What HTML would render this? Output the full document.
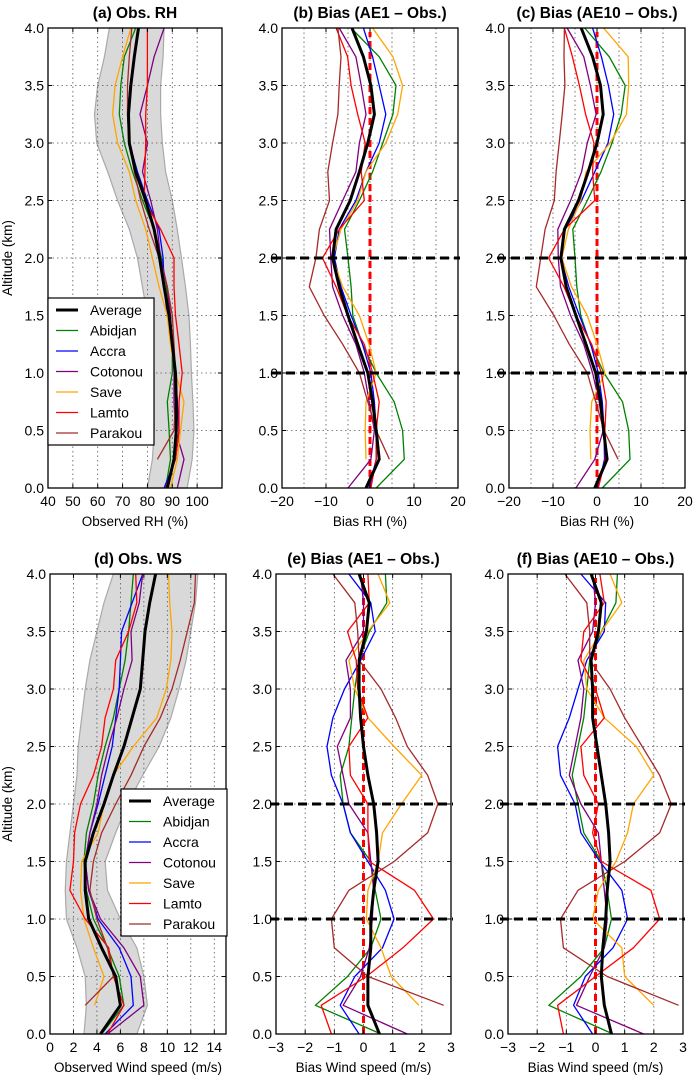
<!DOCTYPE html>
<html><head><meta charset="utf-8"><style>
html,body{margin:0;padding:0;background:#fff;}
svg{display:block;font-family:"Liberation Sans","DejaVu Sans",sans-serif;}
</style></head><body>
<svg id="fig" width="693" height="1076" viewBox="0 0 693 1076" xmlns="http://www.w3.org/2000/svg"></svg>
<script>
// ---------- data ----------
const altitudes = [0,0.25,0.5,0.75,1.0,1.25,1.5,1.75,2.0,2.25,2.5,2.75,3.0,3.25,3.5,3.75,4.0];
const seriesNames = ["Average","Abidjan","Accra","Cotonou","Save","Lamto","Parakou"];
const seriesColors = ["#000000","#008000","#0000ff","#800080","#ffa500","#ff0000","#a52a2a"];

// (a) observed RH (%)
const rhBandLow  = [80,82,82.7,82.7,82.7,81.3,80,78,76,72.7,68,64,59.6,58.7,60,62.7,64.7];
const rhBandHigh = [96,98,98.7,98.3,97.7,97.3,96.7,95.3,93.7,92,90,87.3,86,85.3,85.3,86.3,86.7];
const rhAverage = [88,90.7,91.6,91.6,91.3,90,88.7,86.7,84.9,82.7,79.3,75.3,72.7,72.4,73.3,74.7,76.4];
const rhAbidjan = [87.3,89.3,88.7,88,90,90,89.3,87.6,85.7,82.7,78,74,70.7,68.7,69.3,70.7,75.3];
const rhAccra   = [86.7,91.3,92.7,92,91.3,90,88,86.7,86.3,84.7,80,76,72.7,72,73,74.7,76.4];
const rhCotonou = [92,94.7,91.3,90.7,90.7,90,89.3,88,85.3,84,81.3,78,80,77,80,82.7,86.7];
const rhSave    = [89.3,92,93.3,94.7,91.3,89.3,88,84.7,82,79.3,75.3,72.7,68,66,67,70,73.3];
const rhLamto   = [87.3,91.3,92.7,92.7,94,92.7,91.3,90.7,90.7,85.3,78.7,79,79.3,79.3,80,80,80];
const rhParakou = [null,84,90.7,91.3,91.3,90.7,90,88,84.7,80.7,77.3,74.7,72.7,72,72,72.7,73.7];

// (b) RH bias AE1 - Obs (%)
const b1Average = [-0.9,2.1,1.4,0.6,-0.5,-2.8,-5,-7,-8.5,-7.7,-4.5,-2.4,-0.5,1.0,0.2,-1.5,-4.1];
const b1Abidjan = [1.4,7.8,7.4,5.5,1.4,-1.7,-3.9,-4.3,-5,-5.8,-2.4,0.6,2.9,5.2,5.9,2.1,-4.3];
const b1Accra   = [-0.2,1.4,1.4,1,0.2,-1.7,-4.3,-6.6,-8.1,-7,-3.2,-0.9,2.1,3.6,2.1,0.6,-1.5];
const b1Cotonou = [-5,0.2,1,-0.2,-1.3,-3.2,-6.2,-8.5,-8.9,-9.2,-6.2,-3.2,-2.4,-0.9,-2,-3.2,-7];
const b1Save    = [null,-0.9,-1.1,-0.9,1.4,-0.2,-2.4,-6.2,-8.5,-6.6,-2.8,-0.9,3.6,6.3,7.4,5.2,0.6];
const b1Lamto   = [0.2,1.4,1.4,2.1,0.6,-1.3,-5.1,-7.7,-10.8,-7,-1.3,-2,-1.1,-2.8,-4.3,-5.1,-7.7];
const b1Parakou = [null,4.4,1.4,-0.5,-2.4,-6.2,-10.4,-13.8,-12.3,-11.5,-9.2,-9.6,-8.5,-7.3,-7,-6.6,-7.3];

// (c) RH bias AE10 - Obs (%)
const b10Average = [-0.5,2.3,1.5,0.8,-0.3,-2.5,-4.8,-7,-8.2,-7.4,-4.2,-2,0,1.4,0.8,-1,-3.6];
const b10Abidjan = [1.2,7.5,7.2,5.8,1.6,-1.5,-3.7,-4.6,-5,-5.5,-2.2,0.9,3.4,5.5,6.4,2.8,-2.8];
const b10Accra   = [0.2,1.7,1.6,1.2,0.3,-1.4,-4,-6.4,-8.2,-7.2,-3.5,-0.5,2.5,3.8,2.6,1,-1];
const b10Cotonou = [-4.8,-0.5,1.4,0.5,-1,-3,-6,-8.3,-8.8,-8.9,-6,-3.5,-2.2,-0.2,-1.5,-3,-6.8];
const b10Save    = [null,-1.4,-1.6,-1.2,1.8,0,-2.2,-5.8,-8,-6.5,-3.7,-2.5,3,6.7,7.2,7.1,1.5];
const b10Lamto   = [0.3,1.9,1.8,2.1,1,-1.2,-4.8,-7.5,-11,-7.4,-0.5,-1,-0.7,-2.6,-4,-5.6,-7.4];
const b10Parakou = [null,4.8,1.6,-0.3,-2.2,-6.3,-9.8,-13.8,-12.8,-11.8,-9.7,-9.3,-8.6,-7.9,-7.3,-7.5,-7.4];

// (d) observed wind speed (m/s)
const wsBandLow  = [2.9,3.1,3,2.3,1.4,1.3,1.4,1.7,2,2.3,2.4,2.7,3,3.4,4,4.6,5.4];
const wsBandHigh = [7.4,8.3,8,7.4,6,4.9,4.7,5.6,6.6,7.9,9.3,10.3,11,11.6,12,12.4,12.6];
const wsAverage = [4.3,6,5.6,4.4,3.3,3,3,3.7,4.6,5.4,6.3,7,7.7,7.9,8.1,8.5,9.0];
const wsAbidjan = [4.4,6.3,5.9,4.9,3.7,3.1,2.9,3.1,3.7,4.1,4.7,5.4,5.9,6.4,6.7,6.9,7.1];
const wsAccra   = [4.7,7.1,6.9,5.9,4.1,3.3,3,3.4,4.1,4.7,5.3,5.6,5.9,6,6.1,7,7.9];
const wsCotonou = [4.9,8,7.7,6.3,4.3,3.3,3,3.4,4,4.4,5,5.7,6.3,7,6.9,7.6,7.9];
const wsSave    = [null,3.8,4.6,3.7,2.9,2.6,2.7,4.1,4.6,5.4,7.1,9.1,9.9,10.3,10.4,10.2,10.1];
const wsLamto   = [4.9,6.3,5.4,5,3,1.7,2,2.1,2.6,3.7,4.4,4.7,5.4,5.6,6.7,7.4,7.3];
const wsParakou = [null,3.0,5.4,4.9,4,3.4,3.7,4.4,5.6,6.9,8,9.4,10.4,11.1,11.7,12.3,12.4];

// (e) WS bias AE1 - Obs (m/s)
const e1Average = [0.55,0.15,0.15,0.25,0.25,0.35,0.5,0.45,0.35,0.15,0,-0.1,-0.15,-0.15,0.1,0.2,-0.15];
const e1Abidjan = [0.6,-1.65,-0.55,0.25,0.6,0.4,0.25,-0.45,-0.7,-0.8,-0.5,-0.4,-0.3,-0.15,0.2,0.8,0.75];
const e1Accra   = [-0.15,-0.8,-0.3,0.65,1.05,0.75,0.15,-0.45,-0.7,-1.1,-1.25,-1.05,-0.65,-0.1,0.4,0.25,-0.5];
const e1Cotonou = [1.5,-0.7,-0.1,0.2,0.3,0.35,0.25,0.15,-0.5,-0.7,-0.9,-0.45,-0.45,-0.6,0,0,-0.1];
const e1Save    = [null,1.9,0.95,0.6,0.1,0.15,0.5,0.65,1.3,2.0,1.05,0.15,-0.3,-0.5,0.15,0.9,0.5];
const e1Lamto   = [-1.1,-1.45,0.1,1.35,2.4,1.75,0.2,0.15,0.15,-0.45,-0.5,0.15,-0.2,-0.25,-0.55,0.2,0.15];
const e1Parakou = [null,2.75,0.15,-1.0,-1.1,-0.5,1.05,2.2,2.55,2.2,1.5,1.1,0.6,-0.15,-0.2,-0.3,-1.05];

// (f) WS bias AE10 - Obs (m/s)
const e10Average = [0.55,0.3,0.2,0.25,0.35,0.4,0.5,0.45,0.35,0.2,0.05,-0.1,-0.1,-0.15,0.1,0.2,-0.15];
const e10Abidjan = [0.6,-1.6,-0.5,0.3,0.55,0.4,0.2,-0.4,-0.6,-0.8,-0.6,-0.4,-0.3,-0.2,0.2,0.7,0.75];
const e10Accra   = [-0.1,-0.75,-0.35,0.6,1.1,0.9,0.15,-0.5,-0.7,-1.2,-1.3,-0.9,-0.6,-0.3,0.3,0.35,-0.5];
const e10Cotonou = [1.65,-0.65,-0.2,0.3,0.4,0.3,0.2,0.1,-0.5,-0.9,-0.7,-0.5,-0.4,-0.6,-0.1,0,-0.1];
const e10Save    = [null,2.0,1.0,0.9,-0.1,0.1,0.7,1.1,1.3,2.0,1.4,0.3,-0.3,-0.4,0.2,0.9,0.5];
const e10Lamto   = [-1.1,-1.3,0.0,1.3,2.2,1.9,0.2,-0.1,0.1,-0.4,-0.5,0.3,0,-0.5,-0.4,0.3,0.15];
const e10Parakou = [null,2.85,0.4,-1.1,-1.2,-0.6,1.0,2.2,2.6,2.2,1.6,1.0,0.5,-0.2,-0.2,-0.3,-1.05];

// ---------- drawing ----------
const NS = "http://www.w3.org/2000/svg";
const svg = document.getElementById('fig');
function mk(tag, attrs, parent){
  const e = document.createElementNS(NS, tag);
  for (const k in attrs) e.setAttribute(k, attrs[k]);
  (parent||svg).appendChild(e);
  return e;
}

const panels = [
  {id:'a', title:'(a) Obs. RH', x0:48, x1:222, y0:28, y1:488, xmin:40, xmax:110, ticks:[40,50,60,70,80,90,100], grid:[50,60,70,80,90,100], xlabel:'Observed RH (%)', ylabel:true,
   series:[rhAverage,rhAbidjan,rhAccra,rhCotonou,rhSave,rhLamto,rhParakou], band:[rhBandLow,rhBandHigh], legend:{x:48,y:298}},
  {id:'b', title:'(b) Bias (AE1 \u2013 Obs.)', x0:282, x1:458, y0:28, y1:488, xmin:-20, xmax:20, ticks:[-20,-10,0,10,20], grid:[-15,-10,-5,0,5,10,15], xlabel:'Bias RH (%)', bias:true, dashX0:272,
   series:[b1Average,b1Abidjan,b1Accra,b1Cotonou,b1Save,b1Lamto,b1Parakou]},
  {id:'c', title:'(c) Bias (AE10 \u2013 Obs.)', x0:509, x1:685, y0:28, y1:488, xmin:-20, xmax:20, ticks:[-20,-10,0,10,20], grid:[-15,-10,-5,0,5,10,15], xlabel:'Bias RH (%)', bias:true, dashX0:497,
   series:[b10Average,b10Abidjan,b10Accra,b10Cotonou,b10Save,b10Lamto,b10Parakou]},
  {id:'d', title:'(d) Obs. WS', x0:50, x1:226, y0:574, y1:1034, xmin:0, xmax:15, ticks:[0,2,4,6,8,10,12,14], grid:[2,4,6,8,10,12,14], xlabel:'Observed Wind speed (m/s)', ylabel:true,
   series:[wsAverage,wsAbidjan,wsAccra,wsCotonou,wsSave,wsLamto,wsParakou], band:[wsBandLow,wsBandHigh], legend:{x:121,y:789}},
  {id:'e', title:'(e) Bias (AE1 \u2013 Obs.)', x0:276, x1:451, y0:574, y1:1034, xmin:-3, xmax:3, ticks:[-3,-2,-1,0,1,2,3], grid:[-2,-1,0,1,2], xlabel:'Bias Wind speed (m/s)', bias:true, dashX0:270,
   series:[e1Average,e1Abidjan,e1Accra,e1Cotonou,e1Save,e1Lamto,e1Parakou]},
  {id:'f', title:'(f) Bias (AE10 \u2013 Obs.)', x0:508, x1:683, y0:574, y1:1034, xmin:-3, xmax:3, ticks:[-3,-2,-1,0,1,2,3], grid:[-2,-1,0,1,2], xlabel:'Bias Wind speed (m/s)', bias:true, dashX0:500,
   series:[e10Average,e10Abidjan,e10Accra,e10Cotonou,e10Save,e10Lamto,e10Parakou]}
];
const yTicks = [0,0.5,1.0,1.5,2.0,2.5,3.0,3.5,4.0];

function fmt(v){ return v<0 ? '\u2212'+Math.abs(v) : String(v); }

panels.forEach(p=>{
  const g = mk('g',{});
  
  
  const sx = v => p.x0 + (v-p.xmin)/(p.xmax-p.xmin)*(p.x1-p.x0);
  const sy = v => p.y1 - v/4*(p.y1-p.y0);

  const t = mk('text',{x:(p.x0+p.x1)/2, y:p.y0-10, 'text-anchor':'middle','font-size':'15.5','font-weight':'bold',fill:'#000'},g);
  t.textContent = p.title;
  
  

  if (p.band){
    let pts = [];
    altitudes.forEach((a,i)=>pts.push(sx(p.band[0][i])+','+sy(a)));
    for (let i=altitudes.length-1;i>=0;i--) pts.push(sx(p.band[1][i])+','+sy(altitudes[i]));
    const bd = mk('polygon',{points:pts.join(' '),fill:'#d9d9d9',stroke:'#a9a9a9','stroke-width':'1.2'},g);
    
    
  }

  p.grid.forEach(v=>{
    const l = mk('line',{x1:sx(v),x2:sx(v),y1:p.y0,y2:p.y1,stroke:'#555','stroke-width':'0.8','stroke-dasharray':'1.5,3'},g);
    
    
  });
  yTicks.slice(1,-1).forEach(v=>{
    const l = mk('line',{x1:p.x0,x2:p.x1,y1:sy(v),y2:sy(v),stroke:'#555','stroke-width':'0.8','stroke-dasharray':'1.5,3'},g);
    
    
  });

  if (p.bias){
    const rl = mk('line',{x1:sx(0),x2:sx(0),y1:p.y1,y2:p.y0+4,stroke:'#ff0000','stroke-width':'3','stroke-dasharray':'7,4'},g);
    
    
  }

  const order = [1,2,3,4,5,6,0];
  order.forEach(si=>{
    const vals = p.series[si];
    let d = '';
    let pen = false;
    altitudes.forEach((a,i)=>{
      const v = vals[i];
      if (v===null){ pen=false; return; }
      d += (pen?'L':'M') + sx(v).toFixed(1)+','+sy(a).toFixed(1)+' ';
      pen = true;
    });
    const pl = mk('path',{d:d,fill:'none',stroke:seriesColors[si],'stroke-width':si===0?'3':'1.3','stroke-linejoin':'round'},g);
    
    
  });

  if (p.bias){
    [1.0,2.0].forEach(v=>{
      const hl = mk('line',{x1:p.dashX0,x2:p.x1+2,y1:sy(v),y2:sy(v),stroke:'#000','stroke-width':'3','stroke-dasharray':'9,5'},g);
      
      
    });
  }

  const fr = mk('rect',{x:p.x0,y:p.y0,width:p.x1-p.x0,height:p.y1-p.y0,fill:'none',stroke:'#000','stroke-width':'1.3'},g);
  
  

  p.ticks.forEach(v=>{
    mk('line',{x1:sx(v),x2:sx(v),y1:p.y1,y2:p.y1-4,stroke:'#000','stroke-width':'1'},g);
    mk('line',{x1:sx(v),x2:sx(v),y1:p.y0,y2:p.y0+4,stroke:'#000','stroke-width':'1'},g);
    const tl = mk('text',{x:sx(v),y:p.y1+18,'text-anchor':'middle','font-size':'14',fill:'#000'},g);
    tl.textContent = fmt(v);
    
    
  });
  yTicks.forEach(v=>{
    mk('line',{x1:p.x0,x2:p.x0+4,y1:sy(v),y2:sy(v),stroke:'#000','stroke-width':'1'},g);
    mk('line',{x1:p.x1,x2:p.x1-4,y1:sy(v),y2:sy(v),stroke:'#000','stroke-width':'1'},g);
    const tl = mk('text',{x:p.x0-4,y:sy(v)+5,'text-anchor':'end','font-size':'14',fill:'#000'},g);
    tl.textContent = v.toFixed(1);
    
    
  });

  const xl = mk('text',{x:(p.x0+p.x1)/2,y:p.y1+38,'text-anchor':'middle','font-size':'13.5',fill:'#000'},g);
  xl.textContent = p.xlabel;
  
  

  if (p.ylabel){
    const cy = (p.y0+p.y1)/2;
    const yl = mk('text',{x:12,y:cy,'text-anchor':'middle','font-size':'13.5',fill:'#000',transform:'rotate(-90 12 '+cy+')'},g);
    yl.textContent = 'Altitude (km)';
    
    
  }

  if (p.legend){
    const lg = mk('g',{},g);
    
    
    mk('rect',{x:p.legend.x,y:p.legend.y,width:106,height:147,fill:'#fff',stroke:'#000','stroke-width':'1.2'},lg);
    seriesNames.forEach((n,i)=>{
      const yy = p.legend.y+12+i*20.5;
      const ent = mk('g',{},lg);
      
      
      mk('line',{x1:p.legend.x+8,x2:p.legend.x+30,y1:yy,y2:yy,stroke:seriesColors[i],'stroke-width':i===0?'3':'1.3'},ent);
      const lt = mk('text',{x:p.legend.x+42,y:yy+5,'font-size':'14',fill:'#000'},ent);
      lt.textContent = n;
    });
  }
});
</script>
</body></html>
